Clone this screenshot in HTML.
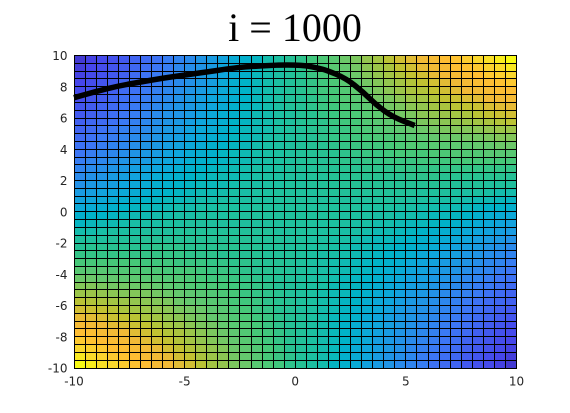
<!DOCTYPE html>
<html>
<head>
<meta charset="utf-8">
<style>
html,body{margin:0;padding:0;background:#fff;width:570px;height:413px;overflow:hidden}
svg{display:block}
text{font-family:"DejaVu Sans",sans-serif;font-size:12px;fill:#262626}
</style>
</head>
<body>
<svg id="chart" xmlns="http://www.w3.org/2000/svg" width="570" height="413" viewBox="0 0 570 413">
<rect x="0" y="0" width="570" height="413" fill="#fff"/>
<text x="295" y="41" text-anchor="middle" style="font-family:'Liberation Serif',serif;font-size:40px;fill:#000">i = 1000</text>
<g id="cells"></g>
<g id="path"></g>
<g id="ticks"></g>
</svg>
<script>
const xTicks = [-10, -5, 0, 5, 10];
const yTicks = [10, 8, 6, 4, 2, 0, -2, -4, -6, -8, -10];
const domainMin = -10;
const domainMax = 10;
const cellStep = 0.5;
const pathX = [-10, -9, -8, -7, -6, -5, -4, -3, -2.5, -2, -1, -0.7, 0, 0.5, 1, 1.4, 2.3, 3.06, 3.68, 4.42, 5.4];
const pathY = [7.3, 7.7, 8.05, 8.3, 8.55, 8.75, 8.95, 9.15, 9.24, 9.3, 9.37, 9.39, 9.39, 9.35, 9.2, 9.07, 8.53, 7.67, 6.81, 6.06, 5.52];
const colorStops = [0, 0.08, 0.215, 0.35, 0.40, 0.45, 0.5, 0.55, 0.6, 0.715, 0.78, 0.85, 0.92, 1];
const colorReds = [62, 70, 60, 15, 0, 25, 40, 70, 100, 190, 240, 255, 250, 248];
const colorGreens = [38, 70, 120, 165, 178, 190, 193, 200, 200, 195, 185, 190, 215, 250];
const colorBlues = [168, 235, 245, 220, 200, 165, 145, 120, 110, 50, 55, 50, 45, 20];
const surfaceRows = [
[5,7,9,11,13,16,18,20,23,25,27,30,32,34,37,39,41,44,46,49,51,54,56,58,61,63,66,68,71,74,76,79,81,84,86,89,92,94,97,100],
[6,8,10,12,14,17,19,21,23,26,28,30,32,35,37,39,42,44,46,48,51,53,55,58,60,62,65,67,69,72,74,77,79,81,84,86,88,91,93,96],
[7,9,11,13,15,18,20,22,24,26,29,31,33,35,37,39,42,44,46,48,50,53,55,57,59,61,64,66,68,70,72,74,77,79,81,83,85,88,90,92],
[8,10,12,14,16,19,21,23,25,27,29,31,33,36,38,40,42,44,46,48,50,52,54,56,58,60,62,64,66,68,70,72,74,76,78,80,82,84,86,88],
[9,11,13,15,18,20,22,24,26,28,30,32,34,36,38,40,42,44,46,48,50,52,54,55,57,59,61,63,65,67,69,70,72,74,76,78,79,81,83,84],
[10,12,14,17,19,21,23,25,27,29,31,33,35,36,38,40,42,44,46,48,49,51,53,55,57,58,60,62,63,65,67,68,70,72,73,75,76,78,79,81],
[12,14,16,18,20,22,24,26,28,30,31,33,35,37,39,41,42,44,46,48,49,51,53,54,56,57,59,60,62,63,65,66,68,69,71,72,73,75,76,77],
[13,15,17,19,21,23,25,27,29,30,32,34,36,38,39,41,43,44,46,47,49,50,52,53,55,56,58,59,61,62,63,65,66,67,68,69,71,72,73,74],
[15,17,18,20,22,24,26,28,30,31,33,35,36,38,40,41,43,44,46,47,49,50,51,53,54,55,57,58,59,60,61,63,64,65,66,67,68,69,70,71],
[16,18,20,22,24,25,27,29,31,32,34,36,37,39,40,42,43,44,46,47,48,50,51,52,53,55,56,57,58,59,60,61,62,63,64,64,65,66,67,67],
[18,20,22,23,25,27,28,30,32,33,35,36,38,39,41,42,43,45,46,47,48,49,51,52,53,54,55,56,56,57,58,59,60,61,61,62,62,63,64,64],
[20,21,23,25,26,28,30,31,33,34,36,37,39,40,41,42,44,45,46,47,48,49,50,51,52,53,54,54,55,56,57,57,58,58,59,59,60,60,61,61],
[21,23,25,26,28,30,31,32,34,35,37,38,39,41,42,43,44,45,46,47,48,49,50,50,51,52,53,53,54,55,55,55,56,56,57,57,57,58,58,58],
[23,25,26,28,30,31,32,34,35,36,38,39,40,41,42,43,44,45,46,47,48,49,49,50,51,51,52,52,53,53,53,54,54,54,55,55,55,55,55,55],
[25,27,28,30,31,33,34,35,36,38,39,40,41,42,43,44,45,45,46,47,48,48,49,49,50,50,51,51,51,52,52,52,52,52,52,52,52,52,52,52],
[27,29,30,32,33,34,35,37,38,39,40,41,42,43,43,44,45,46,46,47,47,48,48,49,49,50,50,50,50,50,51,51,51,50,50,50,50,50,50,49],
[29,31,32,33,35,36,37,38,39,40,41,42,42,43,44,45,45,46,46,47,47,48,48,48,49,49,49,49,49,49,49,49,49,49,48,48,48,47,47,47],
[32,33,34,35,36,37,38,39,40,41,42,43,43,44,45,45,46,46,47,47,47,47,48,48,48,48,48,48,48,48,48,47,47,47,46,46,46,45,44,44],
[34,35,36,37,38,39,40,41,42,42,43,44,44,45,45,46,46,46,47,47,47,47,47,47,47,47,47,47,47,47,46,46,45,45,45,44,43,43,42,41],
[36,37,38,39,40,41,42,42,43,44,44,45,45,46,46,46,47,47,47,47,47,47,47,47,47,47,46,46,46,45,45,44,44,43,43,42,41,40,40,39],
[39,40,40,41,42,43,43,44,44,45,45,46,46,46,47,47,47,47,47,47,47,47,47,47,46,46,46,45,45,44,44,43,42,42,41,40,39,38,37,36],
[41,42,43,43,44,45,45,45,46,46,47,47,47,47,47,47,47,47,47,47,47,47,46,46,46,45,45,44,44,43,42,42,41,40,39,38,37,36,35,34],
[44,44,45,46,46,46,47,47,47,48,48,48,48,48,48,48,48,48,47,47,47,47,46,46,45,45,44,43,43,42,41,40,39,38,37,36,35,34,33,32],
[47,47,47,48,48,48,49,49,49,49,49,49,49,49,49,49,48,48,48,47,47,46,46,45,45,44,43,42,42,41,40,39,38,37,36,35,33,32,31,29],
[49,50,50,50,50,50,50,51,51,51,50,50,50,50,50,49,49,48,48,47,47,46,46,45,44,43,43,42,41,40,39,38,37,35,34,33,32,30,29,27],
[52,52,52,52,52,52,52,52,52,52,51,51,51,50,50,49,49,48,48,48,47,46,45,45,44,43,42,41,40,39,38,36,35,34,33,31,30,28,27,25],
[55,55,55,55,55,55,54,54,54,53,53,53,52,52,51,51,50,49,49,48,47,46,45,44,43,42,41,40,39,38,36,35,34,32,31,30,28,26,25,23],
[58,58,58,57,57,57,56,56,55,55,55,54,53,53,52,51,50,50,49,48,47,46,45,44,43,42,41,39,38,37,35,34,32,31,30,28,26,25,23,21],
[61,61,60,60,59,59,58,58,57,57,56,55,54,54,53,52,51,50,49,48,47,46,45,44,42,41,40,39,37,36,34,33,31,30,28,26,25,23,21,20],
[64,64,63,62,62,61,61,60,59,58,57,56,56,55,54,53,52,51,49,48,47,46,45,43,42,41,39,38,36,35,33,32,30,28,27,25,23,22,20,18],
[67,67,66,65,64,64,63,62,61,60,59,58,57,56,55,53,52,51,50,48,47,46,44,43,42,40,39,37,36,34,32,31,29,27,25,24,22,20,18,16],
[71,70,69,68,67,66,65,64,63,61,60,59,58,57,55,54,53,51,50,49,47,46,44,43,41,40,38,36,35,33,31,30,28,26,24,22,20,18,17,15],
[74,73,72,71,69,68,67,66,65,63,62,61,59,58,56,55,53,52,50,49,47,46,44,43,41,39,38,36,34,32,30,29,27,25,23,21,19,17,15,13],
[77,76,75,73,72,71,69,68,66,65,63,62,60,59,57,56,54,53,51,49,48,46,44,42,41,39,37,35,33,31,30,28,26,24,22,20,18,16,14,12],
[81,79,78,76,75,73,72,70,68,67,65,63,62,60,58,57,55,53,51,49,48,46,44,42,40,38,36,35,33,31,29,27,25,23,21,19,17,14,12,10],
[84,83,81,79,78,76,74,72,70,69,67,65,63,61,59,57,55,54,52,50,48,46,44,42,40,38,36,34,32,30,28,26,24,22,20,18,15,13,11,9],
[88,86,84,82,80,78,76,74,72,70,68,66,64,62,60,58,56,54,52,50,48,46,44,42,40,38,36,33,31,29,27,25,23,21,19,16,14,12,10,8],
[92,90,88,85,83,81,79,77,74,72,70,68,66,64,61,59,57,55,53,50,48,46,44,42,39,37,35,33,31,29,26,24,22,20,18,15,13,11,9,7],
[96,93,91,88,86,84,81,79,77,74,72,69,67,65,62,60,58,55,53,51,48,46,44,42,39,37,35,32,30,28,26,23,21,19,17,14,12,10,8,6],
[100,97,94,92,89,86,84,81,79,76,74,71,68,66,63,61,58,56,54,51,49,46,44,41,39,37,34,32,30,27,25,23,20,18,16,13,11,9,7,5]
];

const plotLeft = 74;
const plotRight = 516.5;
const plotTop = 55.5;
const plotBottom = 368;
const svgNS = 'http://www.w3.org/2000/svg';

function xScale(v) {
  return plotLeft + (v - domainMin) / (domainMax - domainMin) * (plotRight - plotLeft);
}
function yScale(v) {
  return plotTop + (domainMax - v) / (domainMax - domainMin) * (plotBottom - plotTop);
}
function snap(p) {
  return Math.floor(p) + 0.5;
}
function colorFor(value) {
  const t = Math.max(0, Math.min(1, value / 100));
  let i = 0;
  while (i < colorStops.length - 2 && t > colorStops[i + 1]) i++;
  const f = (t - colorStops[i]) / (colorStops[i + 1] - colorStops[i]);
  const mix = function (c) { return Math.round(c[i] + (c[i + 1] - c[i]) * f); };
  return 'rgb(' + mix(colorReds) + ',' + mix(colorGreens) + ',' + mix(colorBlues) + ')';
}

const cellsGroup = document.getElementById('cells');
surfaceRows.forEach(function (row, r) {
  const yHigh = domainMax - r * cellStep;
  row.forEach(function (value, c) {
    const xLow = domainMin + c * cellStep;
    const x0 = snap(xScale(xLow));
    const x1 = snap(xScale(xLow + cellStep));
    const y0 = snap(yScale(yHigh));
    const y1 = snap(yScale(yHigh - cellStep));
    const rect = document.createElementNS(svgNS, 'rect');
    
    
    rect.setAttribute('x', x0);
    rect.setAttribute('y', y0);
    rect.setAttribute('width', x1 - x0);
    rect.setAttribute('height', y1 - y0);
    rect.setAttribute('fill', colorFor(value));
    rect.setAttribute('stroke', '#000');
    rect.setAttribute('stroke-width', '1');
    cellsGroup.appendChild(rect);
  });
});

const pathGroup = document.getElementById('path');
const trajectory = document.createElementNS(svgNS, 'path');
const px = pathX.map(xScale);
const py = pathY.map(yScale);
let d = 'M' + px[0] + ' ' + py[0];
for (let i = 1; i < px.length - 1; i++) {
  d += ' Q' + px[i] + ' ' + py[i] + ' ' + (px[i] + px[i + 1]) / 2 + ' ' + (py[i] + py[i + 1]) / 2;
}
d += ' L' + px[px.length - 1] + ' ' + py[py.length - 1];


trajectory.setAttribute('d', d);
trajectory.setAttribute('fill', 'none');
trajectory.setAttribute('stroke', '#000');
trajectory.setAttribute('stroke-width', '5.5');
trajectory.setAttribute('stroke-linejoin', 'round');
pathGroup.appendChild(trajectory);

const ticksGroup = document.getElementById('ticks');
xTicks.forEach(function (v) {
  const label = document.createElementNS(svgNS, 'text');
  
  
  label.setAttribute('x', xScale(v));
  label.setAttribute('y', 385.5);
  label.setAttribute('text-anchor', 'middle');
  label.textContent = String(v);
  ticksGroup.appendChild(label);
});
yTicks.forEach(function (v) {
  const label = document.createElementNS(svgNS, 'text');
  
  
  label.setAttribute('x', 67.5);
  label.setAttribute('y', yScale(v) + 4.5);
  label.setAttribute('text-anchor', 'end');
  label.textContent = String(v);
  ticksGroup.appendChild(label);
});
</script>
</body>
</html>
